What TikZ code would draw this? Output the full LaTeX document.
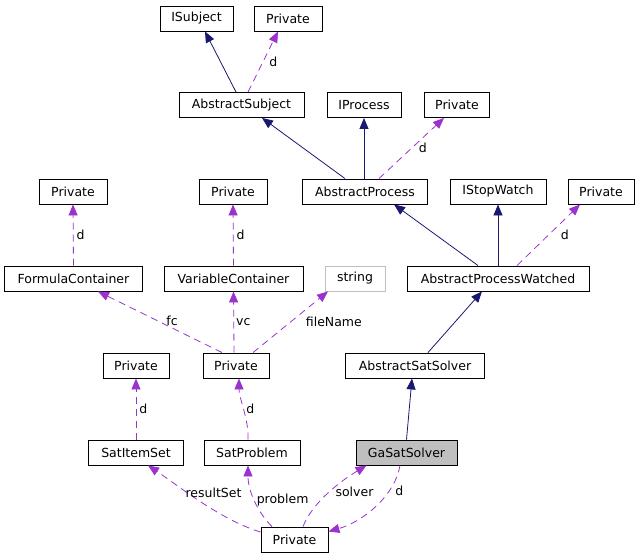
\documentclass[tikz,border=0pt]{standalone}
\usepackage{fontspec}
\setmainfont{DejaVu Sans}
\usetikzlibrary{arrows.meta}
\definecolor{InheritBlue}{HTML}{191970}
\definecolor{UsagePurple}{HTML}{9A32CD}
\tikzset{ClassBox/.style={%
    shape=rectangle,%
    draw=black,%
    fill=white,%
    line width=0.9pt,%
    minimum width=#1,%
    minimum height=25pt,%
    inner sep=2pt,%
    font=\fontsize{12.5}{15}\selectfont,%
}}
\tikzset{FocusBox/.style={%
    ClassBox=#1,%
    fill=black!25,%
}}
\tikzset{ExternBox/.style={%
    ClassBox=#1,%
    draw=black!25,%
}}
\tikzset{InheritEdge/.style={%
    -{Triangle[length=11pt,width=9pt]},%
    draw=InheritBlue,%
    line width=0.8pt,%
}}
\tikzset{UsageEdge/.style={%
    -{Triangle[length=11pt,width=9pt]},%
    draw=UsagePurple,%
    line width=0.8pt,%
    dash pattern=on 7pt off 5pt,%
}}
\tikzset{UsageLabel/.style={%
    font=\fontsize{12.5}{15}\selectfont,%
    text=black,%
    inner sep=2pt,%
}}

\begin{document}
\begin{tikzpicture}[x=1pt,y=-1pt]
    \useasboundingbox (0,0) rectangle (640,557);

    % top rows
    \node[ClassBox=73pt] (iSubject) at (196.5,18.5) {ISubject};
    \node[ClassBox=68pt] (pSubject) at (288,18.5) {Private};
    \node[ClassBox=125pt] (absSubject) at (241.5,105) {AbstractSubject};
    \node[ClassBox=74pt] (iProcess) at (364,105) {IProcess};
    \node[ClassBox=65pt] (pProcess) at (457,105) {Private};
    \node[ClassBox=68pt] (pFormula) at (73,191.5) {Private};
    \node[ClassBox=68pt] (pVariable) at (233,191.5) {Private};
    \node[ClassBox=125pt] (absProcess) at (365,191.5) {AbstractProcess};
    \node[ClassBox=96pt] (iStopWatch) at (498,191.5) {IStopWatch};
    \node[ClassBox=66pt] (pWatched) at (601,191.5) {Private};
    \node[ClassBox=138pt] (formulaCont) at (73.5,278.5) {FormulaContainer};
    \node[ClassBox=139pt] (variableCont) at (233.5,278.5) {VariableContainer};
    \node[ExternBox=60pt] (strName) at (355,278.5) {string};
    \node[ClassBox=182pt] (absWatched) at (498,278.5) {AbstractProcessWatched};

    % bottom rows
    \node[ClassBox=66pt] (pItemSet) at (136,365.5) {Private};
    \node[ClassBox=66pt] (pProblem) at (236,365.5) {Private};
    \node[ClassBox=139pt] (absSolver) at (415,365.5) {AbstractSatSolver};
    \node[ClassBox=95pt] (itemSet) at (136,452.5) {SatItemSet};
    \node[ClassBox=96pt] (satProblem) at (252,452.5) {SatProblem};
    \node[FocusBox=101pt] (gaSolver) at (406.5,452.5) {GaSatSolver};
    \node[ClassBox=67pt] (pGa) at (294.5,539.5) {Private};

    % inheritance
    \path ([xshift=-5.5pt]absSubject.north) edge[InheritEdge] ([xshift=8.5pt]iSubject.south);
    \path ([xshift=-20pt]absProcess.north) edge[InheritEdge] ([xshift=20.5pt]absSubject.south);
    \path ([xshift=-1pt]absProcess.north) edge[InheritEdge] (iProcess.south);
    \path ([xshift=-20pt]absWatched.north) edge[InheritEdge] ([xshift=29pt]absProcess.south);
    \path (absWatched.north) edge[InheritEdge] (iStopWatch.south);
    \path ([xshift=13pt]absSolver.north) edge[InheritEdge] ([xshift=-16pt]absWatched.south);
    \path (gaSolver.north) edge[InheritEdge] ([xshift=-3pt]absSolver.south);

    % usage
    \path ([xshift=6.5pt]absSubject.north) edge[UsageEdge] node[UsageLabel, right=4pt]{d} ([xshift=-10pt]pSubject.south);
    \path ([xshift=14pt]absProcess.north) edge[UsageEdge] node[UsageLabel, right=5pt]{d} ([xshift=-13pt]pProcess.south);
    \path (formulaCont.north) edge[UsageEdge] node[UsageLabel, right=1pt]{d} (pFormula.south);
    \path (variableCont.north) edge[UsageEdge] node[UsageLabel, right=1pt]{d} (pVariable.south);
    \path ([xshift=19pt]absWatched.north) edge[UsageEdge] node[UsageLabel, right=10pt]{d} ([xshift=-21pt]pWatched.south);
    \path ([xshift=-14pt]pProblem.north) edge[UsageEdge] node[UsageLabel, right=4pt, yshift=1pt]{fc} ([xshift=24.5pt]formulaCont.south);
    \path ([xshift=-2pt]pProblem.north) edge[UsageEdge] node[UsageLabel, right=0pt]{vc} (variableCont.south);
    \path ([xshift=17pt]pProblem.north) edge[UsageEdge] node[UsageLabel, right=13pt]{fileName} ([xshift=-27pt]strName.south);
    \path (itemSet.north) edge[UsageEdge] node[UsageLabel, right=1pt]{d} (pItemSet.south);
    \draw[UsageEdge] ([xshift=-4pt]satProblem.north) .. controls +(1,-20) and +(0,20) .. node[UsageLabel, right]{d} ([xshift=3pt]pProblem.south);
    \draw[UsageEdge] ([yshift=7.5pt]pGa.west) .. controls +(-40,-12) and +(30,20) .. node[UsageLabel, above=2pt, xshift=13pt]{resultSet} ([xshift=12pt]itemSet.south);
    \draw[UsageEdge] ([xshift=-22.5pt]pGa.north) .. controls +(-15,-15) and +(0,25) .. node[UsageLabel, right=0pt]{problem} ([xshift=-4pt]satProblem.south);
    \draw[UsageEdge] ([xshift=8.5pt]pGa.north) .. controls +(10,-25) and +(-25,15) .. node[UsageLabel, right=4pt]{solver} ([xshift=-40pt]gaSolver.south);
    \draw[UsageEdge] ([xshift=-6.5pt]gaSolver.south) .. controls +(-5,30) and +(35,-10) .. node[UsageLabel, pos=0.3, right=4pt]{d} ([yshift=8pt]pGa.east);
\end{tikzpicture}
\end{document}
